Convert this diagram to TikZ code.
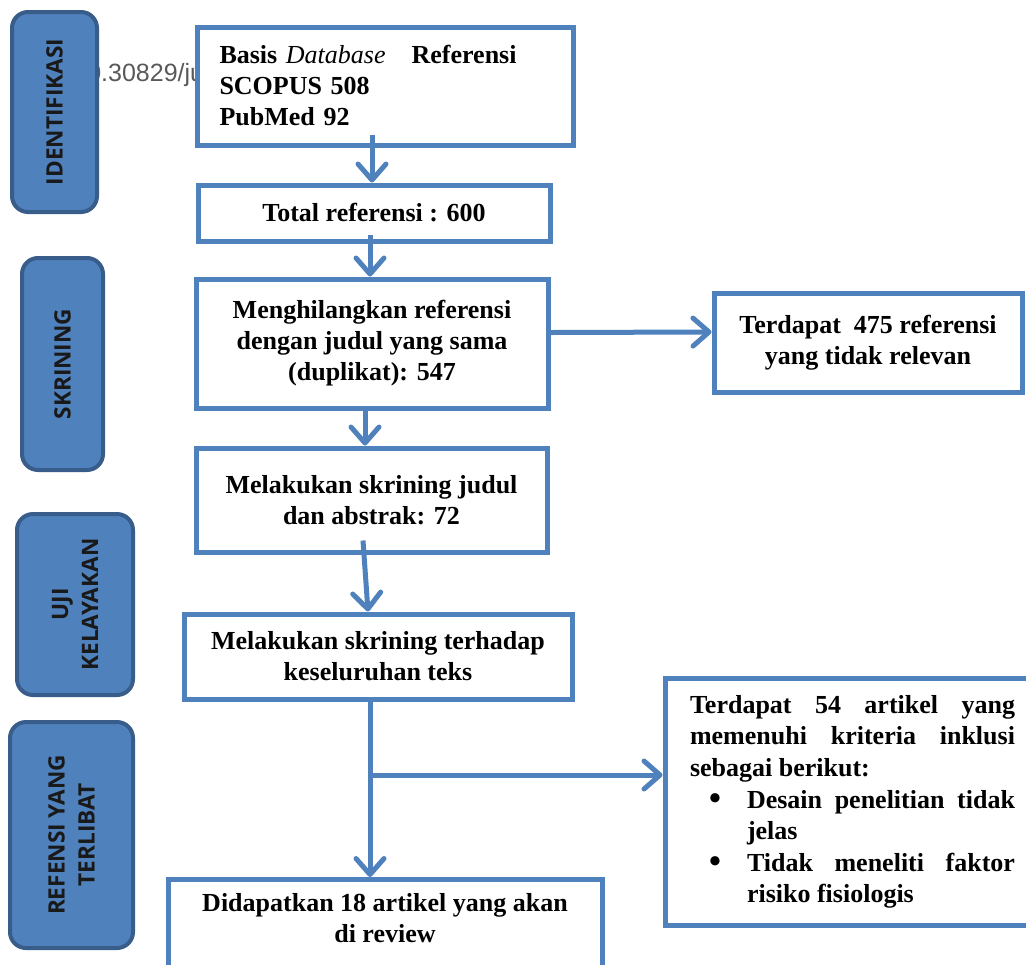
\documentclass[tikz,border=0pt]{standalone}
\usepackage{fontspec}
\setmainfont{Liberation Serif}
\newfontfamily\phasefont{Open Sans}
\newfontfamily\doifont{Liberation Sans}
\usepackage{enumitem}
\usetikzlibrary{arrows.meta,positioning,calc}
\definecolor{boxblue}{HTML}{4F81BD}
\definecolor{phaseedge}{HTML}{385D8A}

\tikzset{
  flowbox/.style={draw=boxblue,line width=2.5pt,fill=white,align=center,
    font=\fontsize{13}{15.5}\selectfont\bfseries,inner sep=4pt},
  phase/.style={draw=phaseedge,fill=boxblue,line width=2pt,rounded corners=8pt,
    rotate=90,align=center,text=black!90,
    font=\phasefont\fontsize{11.3}{15}\selectfont\bfseries},
  flow/.style={draw=boxblue,line width=2.5pt,
    -{Straight Barb[length=8pt,width=14pt,round]}},
}

\begin{document}
\begin{tikzpicture}[x=0.5pt,y=-0.5pt]
  \useasboundingbox (0,0) rectangle (1026,964);
  \clip (0,0) rectangle (1026,964);
  % doi fragment, partly hidden behind the boxes
  \node[anchor=west,inner sep=0pt,text=black!65,
    font=\doifont\fontsize{12.5}{14}\selectfont] (doi) at (73,75) {10.30829/jur};

  % phases
  \node[phase,minimum width=100pt,minimum height=42.5pt] (idf) at (54.5,112) {IDENTIFIKASI};
  \node[phase,minimum width=106pt,minimum height=40.5pt] (skr) at (62.5,364) {SKRINING};
  \node[phase,minimum width=90.5pt,minimum height=58pt] (uji) at (75,604.5) {UJI\\KELAYAKAN};
  \node[phase,minimum width=113pt,minimum height=61.5pt] (trl) at (71.5,835) {REFENSI YANG\\TERLIBAT};

  % main flow
  \node[flowbox,align=left,text width=166pt,minimum height=59pt,inner xsep=11pt] (basis) at (385.5,86)
    {Basis \textit{\mdseries Database}\hspace{13pt}Referensi\\SCOPUS 508\\PubMed 92};
  \node[flowbox,minimum width=176pt,minimum height=28pt] (total) at (374,213) {Total referensi : 600};
  \node[flowbox,minimum width=176pt,minimum height=64.5pt] (dupl) at (372,343.5)
    {Menghilangkan referensi\\dengan judul yang sama\\(duplikat): 547};
  \node[flowbox,minimum width=175.5pt,minimum height=52pt] (judul) at (371.5,500)
    {Melakukan skrining judul\\dan abstrak: 72};
  \node[flowbox,minimum width=194pt,minimum height=42.5pt] (teks) at (378,656.5)
    {Melakukan skrining terhadap\\keseluruhan teks};
  \node[flowbox,anchor=north,minimum width=217pt,text depth=30pt,inner ysep=7pt] (review) at (385,877)
    {Didapatkan 18 artikel yang akan\\di review};

  % side boxes
  \node[flowbox,minimum width=154pt,minimum height=49.5pt] (relevan) at (868,342.5)
    {Terdapat\ \ 475 referensi\\yang tidak relevan};
  \node[flowbox,align=justify,text width=162.5pt,minimum height=123.5pt,inner xsep=12.5pt,
    font=\fontsize{13}{15.8}\selectfont\bfseries] (inklusi) at (852.5,802)
    {Terdapat 54 artikel yang\linebreak memenuhi kriteria inklusi\linebreak sebagai berikut:
     \begin{itemize}[leftmargin=28.5pt,labelsep=13pt,itemsep=0pt,topsep=0pt,parsep=0pt,partopsep=0pt,
       label={\raisebox{-0.8pt}{\fontsize{17}{17}\selectfont\textbullet}}]
       \item Desain penelitian tidak\linebreak jelas
       \item Tidak meneliti faktor\linebreak risiko fisiologis
     \end{itemize}};

  % connectors
  \coordinate (split) at (370,775);
  \draw[flow] ($(total.north |- basis.south)+(-2,-13)$) -- ($(total.north)+(-2,0)$);
  \draw[flow] ($(dupl.north |- total.south)+(-2,-9)$) -- ($(dupl.north)+(-2,0)$);
  \draw[flow] ($(dupl.south)+(-7,0)$) -- ($(judul.north)+(-6.5,0)$);
  \draw[flow] ($(judul.south)+(-8.5,-14)$) -- ($(teks.north)+(-10,0)$);
  \draw[flow] ($(dupl.east)+(0,-11)$) -- ($(relevan.west)+(0,-10.5)$);
  \draw[flow] (teks.south -| split) -- (review.north -| split);
  \draw[flow] (split) -- (split -| inklusi.west);
\end{tikzpicture}
\end{document}
